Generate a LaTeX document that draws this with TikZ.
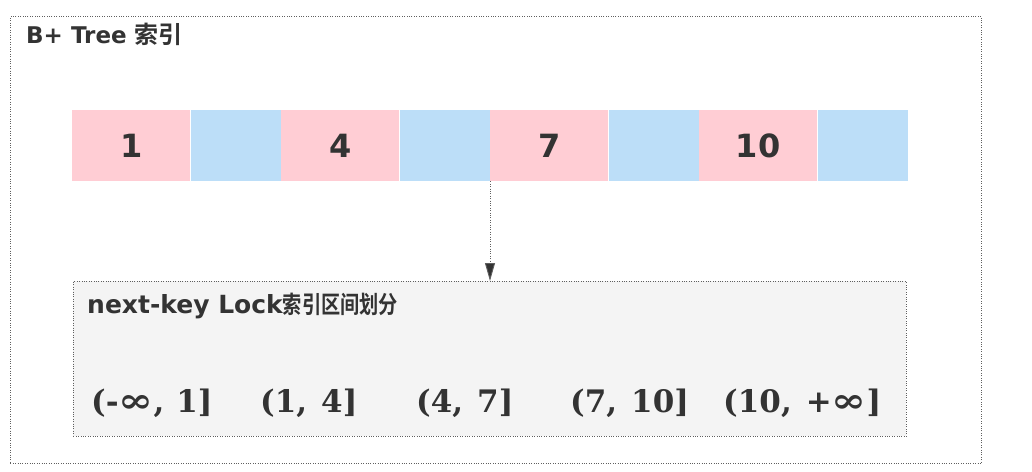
\documentclass[tikz,border=0pt]{standalone}
\usepackage{fontspec}
\newfontfamily\dvsans{DejaVu Sans}
\newfontfamily\dvserif{DejaVu Serif}
\newfontfamily\cjkb{Noto Sans CJK SC Bold}
\usetikzlibrary{arrows.meta}
\definecolor{pinkc}{RGB}{255,205,212}
\definecolor{bluec}{RGB}{188,222,248}
\definecolor{boxfill}{RGB}{244,244,244}
\definecolor{txt}{RGB}{51,51,51}
\definecolor{dotc}{RGB}{95,95,95}
\newcommand{\infsym}{\scalebox{1.35}[1.1]{∞}}
\tikzset{
  frame/.style={draw=dotc, line width=0.9pt, dash pattern=on 0.9pt off 1.5pt, inner sep=0pt, anchor=north west},
  cell/.style={draw=none, inner sep=0pt, minimum height=71pt, anchor=north west, text=txt,
               font=\dvsans\bfseries\fontsize{32pt}{36pt}\selectfont},
  pinkcell/.style={cell, fill=pinkc, minimum width=118pt},
  bluecell/.style={cell, fill=bluec, minimum width=90.2pt},
  label/.style={inner sep=0pt, anchor=base west, text=txt},
  ival/.style={label, font=\dvserif\bfseries\fontsize{31pt}{34pt}\selectfont},
  dotline/.style={draw=dotc, line width=0.9pt, dash pattern=on 0.9pt off 1.5pt},
}
\begin{document}
\begin{tikzpicture}[x=1pt,y=-1pt]
\useasboundingbox (0,0) rectangle (1032,471);
% outer frame
\node[frame, minimum width=971pt, minimum height=447pt] (outer) at (10,16) {};
\node[label] (title) at (26,43)
  {{\dvsans\bfseries\fontsize{23pt}{26pt}\selectfont B+ Tree }{\cjkb\fontsize{24pt}{26pt}\selectfont 索引}};
% cells
\node[pinkcell] (p1) at (72,110) {1};
\node[bluecell] (b1) at (p1.north east) {};
\node[pinkcell] (p2) at (b1.north east) {4};
\node[bluecell] (b2) at (p2.north east) {};
\node[pinkcell] (p3) at (b2.north east) {7};
\node[bluecell] (b3) at (p3.north east) {};
\node[pinkcell] (p4) at (b3.north east) {10};
\node[bluecell] (b4) at (p4.north east) {};
% lock box
\node[frame, fill=boxfill, minimum width=833pt, minimum height=155pt] (lock) at (73,281) {};
\node[label] (sub) at (87,313)
  {{\dvsans\bfseries\fontsize{25pt}{28pt}\selectfont next-key Lock}\scalebox{0.8}[1]{\cjkb\fontsize{24pt}{28pt}\selectfont 索引区间划分}};
% intervals
\node[ival] (i1) at (91,412) {(-\infsym,\hspace{12pt}1]};
\node[ival] (i2) at (260,412) {(1,\hspace{14pt}4]};
\node[ival] (i3) at (416,412) {(4,\hspace{14pt}7]};
\node[ival] (i4) at (570,412) {(7,\hspace{14pt}10]};
\node[ival] (i5) at (723,412) {(10,\hspace{14pt}+\infsym]};
% arrow
\draw[dotline, -{Triangle[length=18pt,width=10pt,fill=black!80]}] (b2.south east) -- (b2.south east |- lock.north);
\end{tikzpicture}
\end{document}
